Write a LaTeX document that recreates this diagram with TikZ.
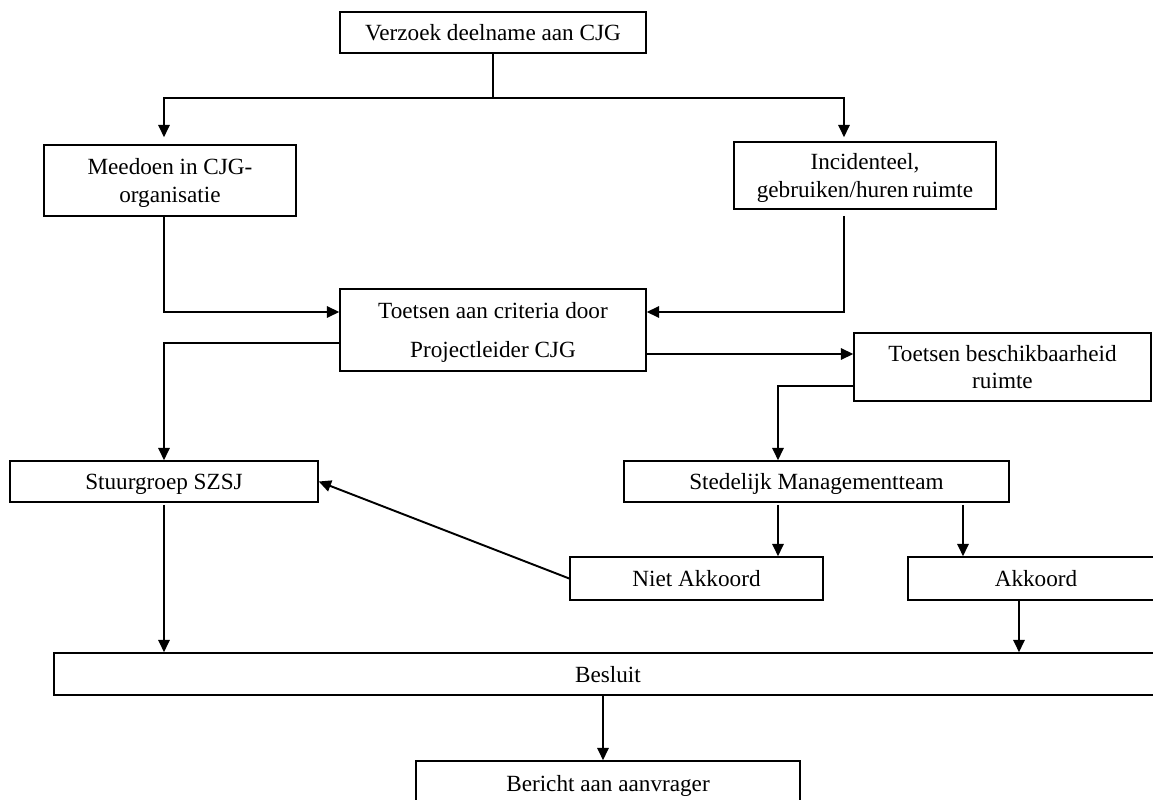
\documentclass[tikz,border=0pt]{standalone}
\usepackage{fontspec}
\setmainfont{Liberation Serif}
\usetikzlibrary{calc,arrows.meta}

\tikzset{
  box/.style={draw, line width=0.9pt, inner sep=0pt, align=center, text depth=0pt,
    font=\fontsize{13.2}{15.5}\selectfont},
  ln/.style={line width=0.9pt},
  arr/.style={ln, -{Triangle[length=7pt,width=6.5pt]}}
}

\begin{document}
\begin{tikzpicture}[x=0.02cm,y=-0.02cm]
\useasboundingbox (0,0) rectangle (1153,800);

\node[box, minimum width=6.12cm, minimum height=0.82cm] (verzoek) at (493,32.5) {Verzoek deelname aan CJG};
\node[box, minimum width=5.04cm, minimum height=1.42cm] (meedoen) at (170,180.5) {Meedoen in CJG-\\organisatie};
\node[box, minimum width=5.24cm, minimum height=1.34cm] (incident) at (865,175.5) {Incidenteel,\\gebruiken/huren\,ruimte};
\node[box, minimum width=6.12cm, minimum height=1.64cm] (toetsen) at (493,330) {Toetsen aan criteria door\\[6.6pt]Projectleider CJG};
\node[box, minimum width=5.94cm, minimum height=1.36cm] (beschik) at (1002.5,367) {Toetsen beschikbaarheid\\ruimte};
\node[box, minimum width=6.16cm, minimum height=0.82cm] (stuur) at (164,481.5) {Stuurgroep SZSJ};
\node[box, minimum width=7.70cm, minimum height=0.82cm] (smt) at (816.5,481.5) {Stedelijk Managementteam};
\node[box, minimum width=5.06cm, minimum height=0.86cm] (niet) at (696.5,578.5) {Niet Akkoord};
\node[box, minimum width=5.12cm, minimum height=0.86cm] (akk) at (1036,578.5) {Akkoord};
\node[box, minimum width=22.16cm, minimum height=0.84cm] (besluit) at (608,674) {Besluit};
\node[box, minimum width=7.68cm, minimum height=0.88cm] (bericht) at (608,783) {Bericht aan aanvrager};

\coordinate (split) at ($(verzoek.south)+(0,44)$);
\coordinate (mtop) at ($(meedoen.north)+(-6,0)$);
\coordinate (itop) at ($(incident.north)+(-21,0)$);
\coordinate (sL) at ($(smt.north)+(-38.5,0)$);
\coordinate (sR) at ($(smt.south)+(146.5,2)$);
\coordinate (aB) at ($(akk.south)+(-17,0)$);
\coordinate (bB) at ($(besluit.south)+(-5,0)$);
\coordinate (tR) at ($(toetsen.east)+(0,24)$);

\draw[ln] (verzoek.south) -- (split);
\draw[arr, shorten >=0.14cm] (split) -| (mtop);
\draw[arr, shorten >=0.08cm] (split) -| (itop);
\draw[arr] (meedoen.south -| mtop) |- ($(toetsen.west)+(0,-18)$);
\draw[arr, shorten <=0.12cm] (incident.south -| itop) |- ($(toetsen.east)+(0,-18)$);
\draw[arr] ($(toetsen.west)+(0,13)$) -| (stuur.north);
\draw[arr] (tR) -- (tR -| beschik.west);
\draw[arr] ($(beschik.west)+(0,19)$) -| (sL);
\draw[arr] ($(smt.south)+(-38.5,2)$) -- (sL |- niet.north);
\draw[arr] (sR) -- (sR |- akk.north);
\draw[arr, line width=1.1pt] (niet.west) -- (stuur.east);
\draw[arr, shorten <=0.04cm] (stuur.south) -- (stuur.south |- besluit.north);
\draw[arr] (aB) -- (aB |- besluit.north);
\draw[arr] (bB) -- (bB |- bericht.north);
\end{tikzpicture}
\end{document}
